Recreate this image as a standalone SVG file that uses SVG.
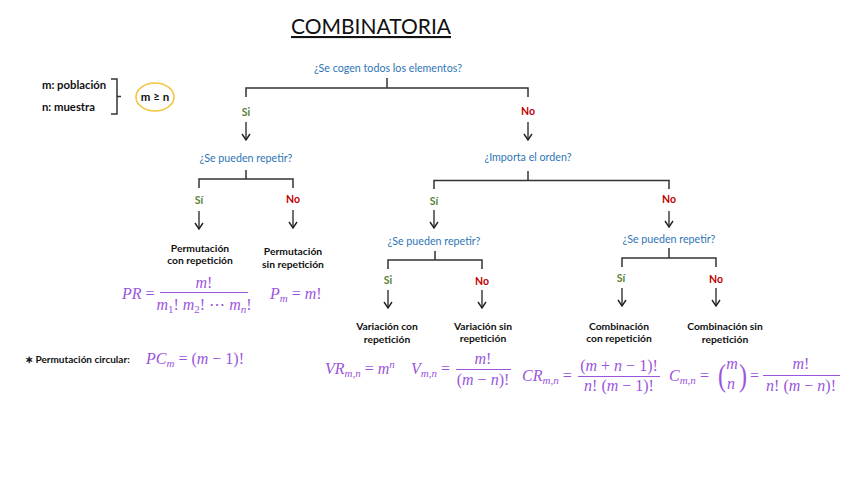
<svg xmlns="http://www.w3.org/2000/svg" width="848" height="477" viewBox="0 0 848 477">
<defs>
<marker id="ah" markerWidth="10" markerHeight="10" refX="7" refY="5" orient="auto" markerUnits="userSpaceOnUse" viewBox="0 0 10 10">
<path d="M1,1 L7,5 L1,9" fill="none" stroke="#222" stroke-width="1.4"/>
</marker>
<style>
text{font-family:Lato,"Liberation Sans",sans-serif;}
.q{fill:#2e75b6;font-size:10.7px;text-anchor:middle;}
.si{fill:#548235;font-size:10.5px;font-weight:bold;text-anchor:middle;}
.no{fill:#c00000;font-size:10.5px;font-weight:bold;text-anchor:middle;}
.lb{fill:#111;font-size:10.3px;font-weight:bold;text-anchor:middle;}
.m{fill:#9b55dd;font-family:"Liberation Serif","DejaVu Serif",serif;font-style:italic;font-size:16px;}
.mc{text-anchor:middle;}
.n{font-style:normal;}
.sub{font-size:11px;}
.br{fill:none;stroke:#333;stroke-width:1.5;}
.ar{fill:none;stroke:#222;stroke-width:1.3;marker-end:url(#ah);}
.fl{stroke:#9b55dd;stroke-width:1;}
</style>
</defs>
<rect width="848" height="477" fill="#fff"/>

<g id="title">
<text x="371" y="34" font-size="21" text-anchor="middle" fill="#111" text-decoration="underline">COMBINATORIA</text>
</g>

<g id="legend">
<text x="42" y="89" font-size="11.3" font-weight="bold" fill="#111">m: población</text>
<text x="42" y="111" font-size="11.3" font-weight="bold" fill="#111">n: muestra</text>
<path d="M111,79 H117 V114 H111 M117,96.5 H121" class="br" stroke-width="1"/>
<ellipse cx="155" cy="97" rx="19" ry="14" fill="none" stroke="#f4c542" stroke-width="1.6"/>
<text x="155" y="101" font-size="11.5" font-weight="bold" fill="#111" text-anchor="middle">m ≥ n</text>
</g>

<g id="connectors">
<path class="br" d="M387,78 V88 M246,97 V88 H528 V97"/>
<path class="ar" d="M246,122 V140"/>
<path class="ar" d="M528,122 V140"/>
<path class="br" d="M246,170 V179 M199,188 V179 H293 V188"/>
<path class="ar" d="M199,211 V229"/>
<path class="ar" d="M293,210 V228"/>
<path class="br" d="M528,171 V180.5 M434,189 V180.5 H669 V189"/>
<path class="ar" d="M434,210 V228"/>
<path class="ar" d="M669,211 V227"/>
<path class="br" d="M435,251 V260 M388,269 V260 H482 V269"/>
<path class="ar" d="M388,290 V308"/>
<path class="ar" d="M482,290 V308"/>
<path class="br" d="M669,248 V258 M622,267 V258 H716 V267"/>
<path class="ar" d="M622,288 V306"/>
<path class="ar" d="M716,288 V306"/>
</g>

<g id="q-todos"><text class="q" x="388" y="72">¿Se cogen todos los elementos?</text></g>
<g id="si-1"><text class="si" x="246" y="116">Si</text></g>
<g id="no-1"><text class="no" x="528" y="115">No</text></g>

<g id="q-repetir-1"><text class="q" x="246" y="162">¿Se pueden repetir?</text></g>
<g id="q-orden"><text class="q" x="528" y="161">¿Importa el orden?</text></g>

<g id="si-2"><text class="si" x="199" y="204">Sí</text></g>
<g id="no-2"><text class="no" x="293" y="203">No</text></g>
<g id="si-3"><text class="si" x="434" y="205">Sí</text></g>
<g id="no-3"><text class="no" x="669" y="203">No</text></g>

<g id="perm-con">
<text class="lb" x="200" y="252">Permutación</text>
<text class="lb" x="200" y="264">con repetición</text>
</g>
<g id="perm-sin">
<text class="lb" x="293" y="255">Permutación</text>
<text class="lb" x="293" y="268">sin repetición</text>
</g>

<g id="q-repetir-2"><text class="q" x="434" y="245">¿Se pueden repetir?</text></g>
<g id="q-repetir-3"><text class="q" x="669" y="243">¿Se pueden repetir?</text></g>

<g id="si-4"><text class="si" x="388" y="284">Si</text></g>
<g id="no-4"><text class="no" x="482" y="285">No</text></g>
<g id="si-5"><text class="si" x="621" y="282">Sí</text></g>
<g id="no-5"><text class="no" x="716" y="283">No</text></g>

<g id="var-con">
<text class="lb" x="387" y="330">Variación con</text>
<text class="lb" x="387" y="343">repetición</text>
</g>
<g id="var-sin">
<text class="lb" x="483" y="330">Variación sin</text>
<text class="lb" x="483" y="342">repetición</text>
</g>
<g id="comb-con">
<text class="lb" x="619" y="330">Combinación</text>
<text class="lb" x="619" y="342">con repetición</text>
</g>
<g id="comb-sin">
<text class="lb" x="725" y="330">Combinación sin</text>
<text class="lb" x="725" y="343">repetición</text>
</g>

<g id="f-pr">
<text class="m" x="122" y="299">PR <tspan class="n">=</tspan></text>
<text class="m mc" x="204" y="288">m<tspan class="n">!</tspan></text>
<line class="fl" x1="160" y1="292.5" x2="248" y2="292.5"/>
<text class="m mc" x="204" y="310">m<tspan class="sub n" dy="3">1</tspan><tspan class="n" dy="-3">! </tspan>m<tspan class="sub n" dy="3">2</tspan><tspan class="n" dy="-3">! ⋯ </tspan>m<tspan class="sub" dy="3">n</tspan><tspan class="n" dy="-3">!</tspan></text>
</g>
<g id="f-pm">
<text class="m" x="270" y="299">P<tspan class="sub" dy="3">m</tspan><tspan class="n" dy="-3"> = </tspan>m<tspan class="n">!</tspan></text>
</g>

<g id="circular">
<text x="25" y="363" font-size="10" font-weight="bold" fill="#111">∗ Permutación circular:</text>
<text class="m" x="146" y="364">PC<tspan class="sub" dy="3">m</tspan><tspan class="n" dy="-3"> = (</tspan>m<tspan class="n"> − 1)!</tspan></text>
</g>

<g id="f-vr">
<text class="m" x="325" y="374">VR<tspan class="sub" dy="3">m,n</tspan><tspan class="n" dy="-3"> = </tspan>m<tspan class="sub" dy="-6">n</tspan></text>
</g>
<g id="f-v">
<text class="m" x="411" y="374">V<tspan class="sub" dy="3">m,n</tspan><tspan class="n" dy="-3"> =</tspan></text>
<text class="m mc" x="483" y="364">m<tspan class="n">!</tspan></text>
<line class="fl" x1="456" y1="369.5" x2="511" y2="369.5"/>
<text class="m mc" x="483" y="385"><tspan class="n">(</tspan>m<tspan class="n"> − </tspan>n<tspan class="n">)!</tspan></text>
</g>
<g id="f-cr">
<text class="m" x="522" y="381">CR<tspan class="sub" dy="3">m,n</tspan><tspan class="n" dy="-3"> =</tspan></text>
<text class="m mc" x="619" y="371"><tspan class="n">(</tspan>m<tspan class="n"> + </tspan>n<tspan class="n"> − 1)!</tspan></text>
<line class="fl" x1="578" y1="376.5" x2="660" y2="376.5"/>
<text class="m mc" x="619" y="391">n<tspan class="n">! (</tspan>m<tspan class="n"> − 1)!</tspan></text>
</g>
<g id="f-c">
<text class="m" x="669" y="381">C<tspan class="sub" dy="3">m,n</tspan><tspan class="n" dy="-3"> =</tspan></text>
<text class="m n" x="718" y="386" style="font-size:32px" transform="translate(718,377) scale(0.75,1) translate(-718,-377)">(</text>
<text class="m n" x="739" y="386" style="font-size:32px" transform="translate(739,377) scale(0.75,1) translate(-739,-377)">)</text>
<text class="m mc" x="732" y="369">m</text>
<text class="m mc" x="731" y="389">n</text>
<text class="m n" x="750" y="381">=</text>
<text class="m mc" x="801" y="369">m<tspan class="n">!</tspan></text>
<line class="fl" x1="763" y1="375.5" x2="840" y2="375.5"/>
<text class="m mc" x="801" y="391">n<tspan class="n">! (</tspan>m<tspan class="n"> − </tspan>n<tspan class="n">)!</tspan></text>
</g>
</svg>
